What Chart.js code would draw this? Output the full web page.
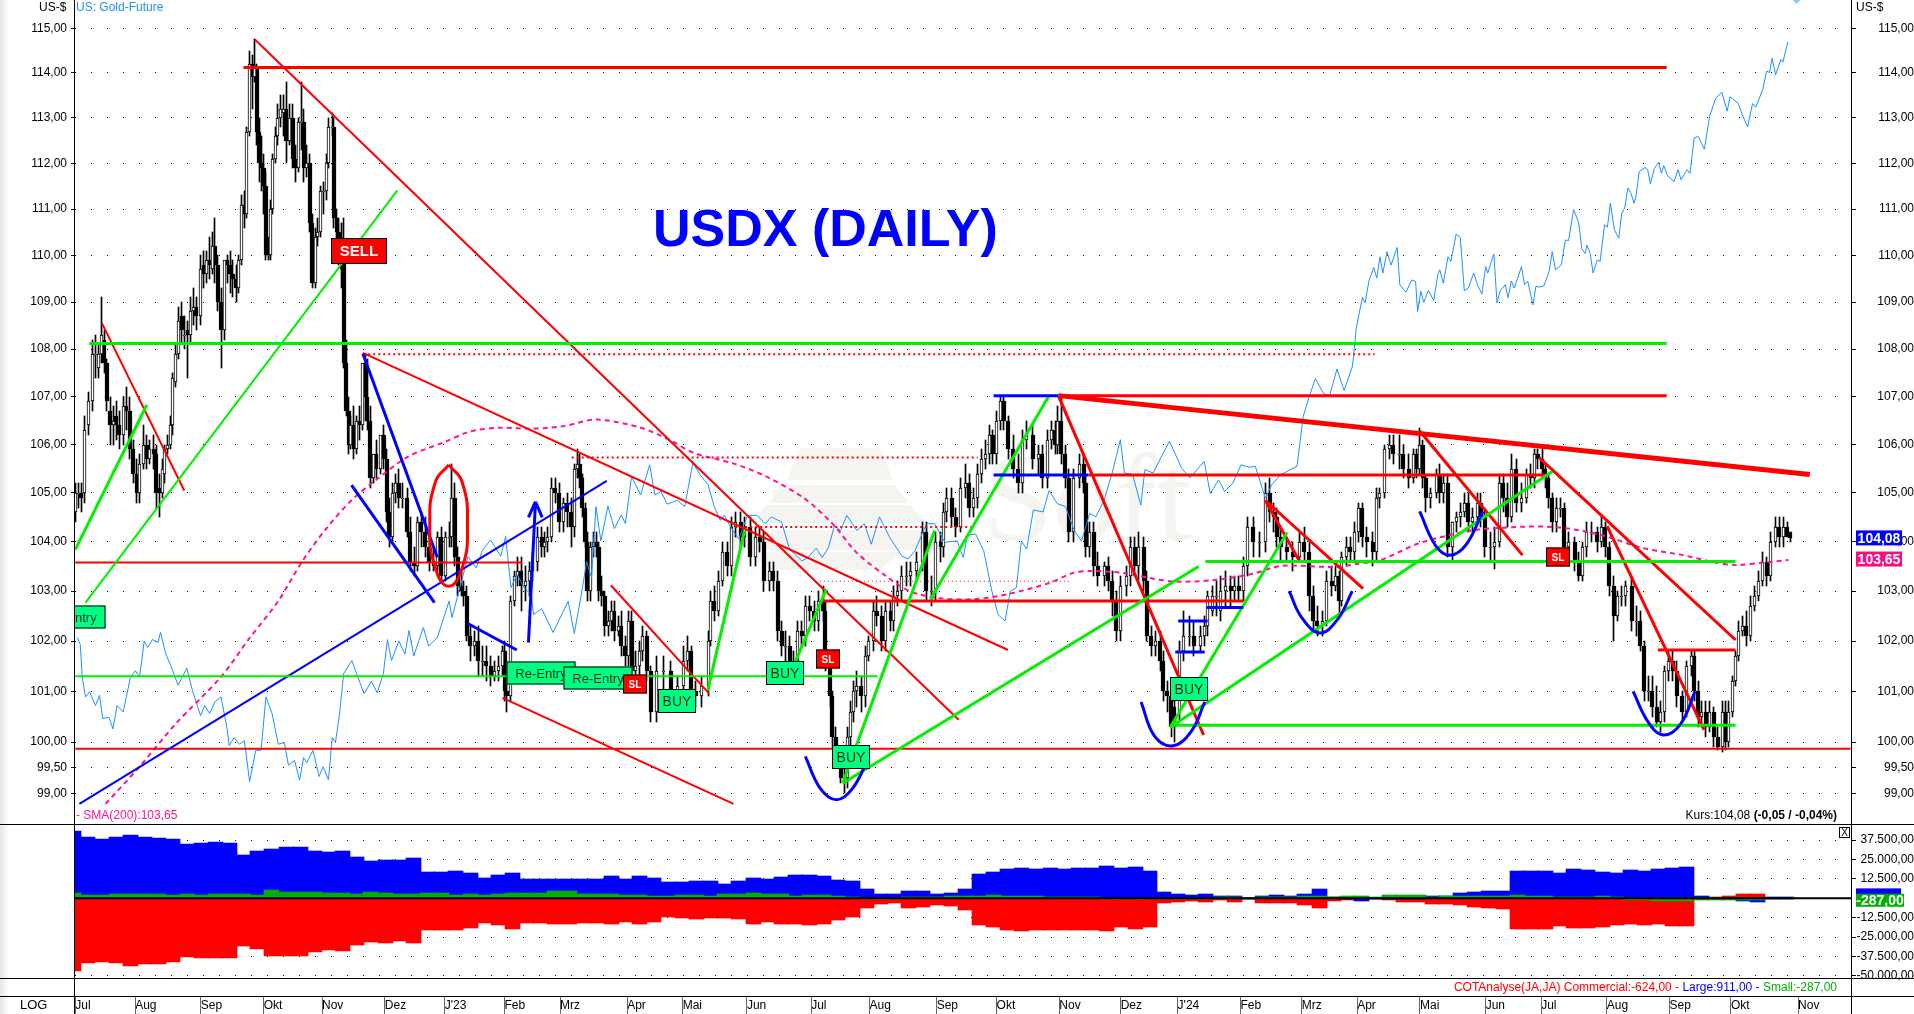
<!DOCTYPE html>
<html>
<head>
<meta charset="utf-8">
<title>USDX (DAILY)</title>
<style>
	html, body {margin: 0; padding: 0; background: #fff; overflow: hidden;}
	body {position: relative; width: 1914px; height: 1014px; font: 12px "Liberation Sans", Arial, sans-serif; color: #000;}
	canvas {position: absolute; left: 0;}
	#main {top: 0;}
	#cot {top: 824px;}
	.rule {position: absolute; background: #000;}
	.txt {position: absolute; line-height: 14px; white-space: nowrap;}
	#fade {position: absolute; left: 0; top: 0; width: 9px; height: 1014px; background: linear-gradient(to right, #e6e6e6, #fff);}
	#title {position: absolute; left: 653px; top: 198px; font: bold 52px/60px "Liberation Sans", Arial, sans-serif; color: #0000ff; white-space: nowrap;}
	#closeBox {position: absolute; left: 1839px; top: 827px; width: 9px; height: 9px; border: 1px solid #000; font: 10px/9px "Liberation Sans", Arial, sans-serif; text-align: center;}
	#goldDot {position: absolute; left: 1794px; top: -2px; width: 5px; height: 5px; background: #9cc4ee; transform: rotate(45deg);}
</style>
</head>
<body>
<div id="fade"></div>
<canvas id="main" width="1914" height="824"></canvas>
<canvas id="cot" width="1914" height="190"></canvas>

<div class="rule" style="left:0;top:824px;width:1914px;height:1px"></div>
<div class="rule" style="left:0;top:978px;width:1914px;height:1px"></div>
<div class="rule" style="left:0;top:996px;width:1914px;height:1px"></div>
<div class="rule" style="left:74px;top:0;width:1px;height:1014px"></div>
<div class="rule" style="left:1851px;top:0;width:1px;height:1014px"></div>

<div id="title">USDX (DAILY)</div>
<div class="txt" style="left:39px;top:0">US-$</div>
<div class="txt" style="left:76px;top:0;color:#1e90ff">US: Gold-Future</div>
<div class="txt" style="left:1856px;top:0">US-$</div>
<div class="txt" style="left:76px;top:808px;color:#ff1493">- SMA(200):103,65</div>
<div class="txt" style="right:77px;top:808px">Kurs:104,08 <b>(-0,05 / -0,04%)</b></div>
<div class="txt" style="right:77px;top:980px"><span style="color:#ff0000">COTAnalyse(JA,JA) Commercial:-624,00 - </span><span style="color:#0000ff">Large:911,00 - </span><span style="color:#00b000">Small:-287,00</span></div>
<div class="txt" style="left:20px;top:998px;font-size:13px">LOG</div>
<div id="closeBox">X</div>
<div id="goldDot"></div>

<script src="https://cdn.jsdelivr.net/npm/chart.js@4"></script>
<script>
// x values are trading-bar numbers, counted from the first bar in July 2022
var candleX = [
0,1,2,3,4.5,5.9,6.9,8,9,10,
10.8,12,13,14,15,16.4,17.5,18.6,19.9,21,
22,23.4,24.5,25.5,26.9,27.8,29,30,30.6,31.7,
32.7,33.4,34.3,35.2,36.4,37.3,38.5,39.4,40.4,41.5,
43,44,45,46,46.9,47.8,48.8,49.9,51,52,
53,54,55.1,55.9,56.9,57.9,58.7,59.7,60.7,61.5,
62.2,63,63.9,64.6,65.3,66,67,67.7,68.4,69.2,
70.2,71.2,72.3,73.4,74.4,75.4,76.5,77.5,78.2,79.3,
80.3,81.1,82.1,83.1,83.9,84.9,85.9,86.7,88,88.5,
89.5,90.2,91.2,91.9,92.8,93.6,94.4,95.4,96.4,97.5,
98.3,99.3,100,101,102,103,104.5,105.6,106.6,107.5,
108.7,109.8,110.8,112.2,113.6,114.7,116,117.1,118.5,119.9,
121.3,122.7,124,125.4,126.8,128,129,130,131,132.2,
133.1,134.1,135.2,136.6,138,139.4,140.8,142.2,143.6,145,
146.2,147.1,147.8,149.2,150.3,151.3,152.7,154.1,155.5,156.6,
158.3,159.7,160.8,161.8,163.2,164.3,165.7,167.1,168.5,169.9,
170.9,171.9,172.7,173.7,174.7,175.4,176.5,177.5,178.6,179.3,
180.3,181.4,182.5,183.5,184.6,185.9,187,188.4,189.4,190.5,
191.9,193.3,194.3,195.7,197,199.2,201.3,204,206.2,208.3,
209.7,211,212.5,214.6,216.7,217.7,218.8,220.2,221.6,223.2,
224.6,226,227.9,229.3,231.1,232.8,234.4,235.8,237.7,239,
240.5,241.9,243.2,244.6,246,247.4,248.8,250.2,251.6,253,
254.4,256.1,256.8,258.6,259.3,260.5,262.2,263.5,264.5,265.6,
266.6,267.7,269.1,270.5,271.6,273.2,274.4,276.1,277.5,279.2,
280.3,281.7,283.1,284.5,286.2,288,290.1,291.5,293.2,294.6,
296.4,297.4,298.5,300.2,301.6,303,304.8,306.2,307.6,309,
310.4,311.8,313.2,314.2,315.6,316.7,318,319.5,321.2,323,
324.4,325.8,327.9,330,331.1,332.8,334.2,335.6,336.5,337.6,
339.1,340.2,341.9,344,345.3,346,347.4,348.8,350.2,352.3,
353.7,355.1,356.5,357.9,360,361.4,362.8,364.2,365.9,367,
368.4,370.1,371.5,372.6,374,375.4,376.4,378,379.6,381.7,
383.1,385.2,386.8,387.9,389.3,390.7,392.2,393.9,395.7,397.1,
398.5,399.9,401.3,403.4,405.5,407.6,409,410.4,411.4,412.8,
414.9,417,419.1,420.8,422.6,424,425.4,427.2,428.6,430.3,
431.7,432.8,433.8,435.2,436.6,438,439.4,440.8,442.2,444.3,
445.7,446.8,448.2,449.9,451.3,453.4,454.8,456.6,458.3,459.4,
460.4,461.4,462.5,464.1,466,467.3,468.7,470.1,471.5,472.9,
474.3,475.7,477.1,478.5,480.2,481.3,482.7,484.6,486.2,487.6,
489,490.4,491.8,493.5,495.3,497.1,498.5,499.7,500.9,502.3,
503.4,504.4,505.8,507.2,508.6,510,511.4,513.5,514.9,516.3,
517.7,519.1,521.2,522.6,524,525.4,526.8,528.2,529.6,531,
533.1,534.5,535.9,537.3,538.7,540.1,541.6,542.9,544.3,545.7,
547.1,548.5,550.3,551.7,553.4,554.5,555.8,556.9,558.3,559.7,
561.1,562.5,564,565.3,566.3,567.4,568.5,569.7,570.9,572.3,
573.7,575.1,576.5,577.9,579.3,580.7,582.1,583.5,584.9,586.3,
587.3];
var candleOpen = [
104.6,105,105,105,106.4,106.9,107.9,107.6,107.9,108.2,
107.7,106.7,106.4,106.6,106.4,106.2,106.8,106.7,105.9,105.4,
105,105.6,106,105.7,105.9,105.8,105.1,105,105.4,105.9,
106,106.4,107.3,107.9,108.7,108.3,108.4,108.3,108.8,108.9,
108.7,109.8,109.6,109.9,109.7,110.2,109.8,109,108.4,109.9,
109.8,109.6,109.5,109.3,109.9,111.1,110.9,112.7,114.2,113.9,
114.1,112.7,112,111.9,111.5,110,110,111,112.1,112.6,
113,113.1,113.2,112.5,113,112.1,111.9,112.9,112.9,111.9,
112,110.7,109.4,110.4,110.5,111.4,111.4,112,112.8,112.8,
110.8,110.5,110,110,107.7,106.7,106,106.4,105.9,106.5,
106.4,107.7,107,106.5,105.3,105.8,105.5,106.2,105.7,104.6,
104.1,105,105.2,104.9,104.9,104.2,103.6,103.5,104.4,104.2,
103.9,103.6,103.5,104.1,103.3,104.1,104.1,104.9,103.7,103.1,
103,102.9,102.1,101.9,102,101.6,101.6,101.5,101.3,101.4,
101.5,101.8,101,100.9,102.8,103.3,103.4,103.1,103.2,103.4,
103.6,104.1,103.9,104,104.1,105.1,105,104.4,104.8,104.6,
104.3,105.5,105.6,105.3,104.7,104,103,103.9,104,103.9,
103,102.9,102.3,102.4,102.6,102.2,102.3,101.9,101.7,102.4,
101.4,101.5,101.8,102.1,101.4,100.6,101.4,101.4,101,101.1,
101.6,101.8,101,100.9,101.1,102,102.8,102.6,103.2,103.8,
103.5,104.3,104.4,104.1,104.3,103.7,104.1,104,103.2,103.4,
103.2,102.2,101.9,101.9,101.6,101.6,102.2,102.1,102.7,102.6,
102.4,102.8,102.6,101.6,100.9,100.1,99.7,99.3,99.3,100.1,
100.6,101,101.1,100.9,101.7,102,102.6,102.5,102,102.6,
102.4,102.9,103,103.3,103.3,103.4,103.6,104.2,103,103,
104,103.9,104.6,104.9,104.5,104.3,105.1,105.2,104.7,104.9,
105.4,105.7,105.8,106.2,105.8,106.5,106.9,106.5,105.9,105.5,
105.2,106.1,106.2,105.7,105.8,105.3,106.1,106.3,106,106.5,
105.8,105.3,104.2,105.3,105.6,105.2,103.9,104.2,103.5,103.3,
103.5,103.2,102.8,102.2,103.1,103.3,103.9,103.5,103.9,103.2,
102.1,101.9,102,101.6,101,100.9,100.7,100.6,101.8,102.1,
102.1,101.9,102.1,102.3,102.6,102.9,102.6,103,103.1,103,
103.1,103,103.5,104.3,104,104,105,104.6,104.5,104.1,
103.9,103.8,103.7,104,103.8,102.9,102.4,102.3,102.4,103.2,
103.1,103.3,102.8,103.7,103.9,103.8,104.2,104.7,104.1,104,
103.8,104.9,105,105.9,106,105.8,105.8,105.5,105.3,105.8,
105.5,106,105.3,104.9,105,105.4,105,105.2,103.9,104.4,
104.5,104.6,104.8,104.4,104.5,104.8,104.5,103.9,103.9,104,
105.2,104.9,104.5,105.5,104.8,104.9,105.4,105.3,105.8,105.7,
105.5,105.3,104.9,104.4,104.7,104.7,103.9,104,103.6,103.3,
103.9,104.2,104.2,104,104.3,103.9,103.1,102.5,102.9,102.9,
103.1,102.4,102.4,101.9,101,101,100.7,100.4,100.6,101.4,
101.6,101.4,100.9,100.6,101.5,101.7,101,100.5,100.6,100.3,
100.6,100.1,99.9,100.6,100,100.6,101.2,101.7,102.2,102.3,
102.1,102.7,102.9,103.2,103.6,103.3,104,104.3,104.1,104.3,
104.2];
var candleHigh = [
105.2,105.2,105.2,106.6,107.1,108.2,108.3,108.1,109.1,108.4,
107.8,107,106.8,106.9,106.7,107,107.2,107,106.1,105.7,
105.8,106.4,106.2,106.1,106.2,106,105.4,105.7,106,106.2,
106.6,107.5,108.1,108.9,109,108.7,108.6,109.1,109.3,109.1,
110,110.1,110.1,110.4,110.5,110.8,110,109.3,109,110,
110.1,109.9,109.8,110,111.3,111.4,112.8,114.5,114.4,114.75,
114.2,113,112.6,112.2,111.8,110.4,111.2,112.2,112.8,113.3,
113.5,113.5,113.8,113.3,113.3,112.4,113,113.8,113.2,112.4,
112.2,110.9,110.6,110.8,111.5,111.6,112.2,113,113.1,113,
111,110.8,110.7,110.8,108.2,107,106.6,106.8,106.6,106.8,
106.7,107.9,107.8,106.8,105.7,106.1,105.9,106.4,105.9,104.9,
105.2,105.4,105.5,105.2,105.1,104.5,103.9,104.5,104.6,104.5,
104.1,103.9,104.2,104.3,104.2,104.4,105.6,105.2,103.9,103.4,
103.2,103.1,102.3,102.2,102.3,101.9,101.9,101.7,101.6,101.7,
101.9,102,101.2,102.9,103.4,103.7,103.7,103.5,103.6,103.8,
104.3,104.3,104.2,104.3,105.3,105.3,105.2,104.9,105,104.9,
105.6,105.9,105.8,105.4,104.8,104.2,104,104.2,104.2,104,
103.3,103,102.6,102.8,102.8,102.5,102.6,102.1,102.6,102.6,
101.8,102,102.3,102.2,101.5,101.7,101.7,101.6,101.3,101.9,
102.1,101.9,101.2,101.3,102.2,103,103.1,103.4,104,104,
104.5,104.6,104.6,104.5,104.5,104.3,104.3,104.2,103.6,103.6,
103.4,102.4,102.2,102.1,101.8,102.4,102.4,102.9,102.9,102.8,
103,103.1,102.8,101.8,101,100.3,99.9,99.5,100.3,100.8,
101.2,101.4,101.3,101.9,102.1,102.8,102.9,102.7,102.8,102.8,
103.1,103.2,103.5,103.6,103.6,103.8,104.4,104.4,103.3,104.2,
104.2,104.8,105.1,105.1,104.7,105.3,105.6,105.4,105.1,105.6,
105.9,106.1,106.4,106.3,106.7,107,107,106.6,106.2,105.8,
106.3,106.5,106.4,106,106,106.3,106.5,106.5,106.8,107,
106,105.5,105.5,105.8,105.8,105.4,104.4,104.4,103.8,103.6,
103.7,103.4,103,103.3,103.5,104.1,104.1,104.2,104.1,103.4,
102.3,102.2,102.2,101.8,101.2,101.1,100.8,102,102.6,102.5,
102.4,102.3,102.5,103,103.1,103.2,103.3,103.4,103.3,103.3,
103.3,103.7,104.5,104.5,104.2,105.2,105.3,104.8,104.7,104.3,
104.1,104,104.2,104.3,104,103.1,102.7,102.6,103.4,103.5,
103.5,103.4,103.8,104.1,104.1,104.4,104.8,104.8,104.3,104.2,
105.1,105.1,106,106.2,106.2,106.2,106,105.8,105.9,105.9,
106.35,106.1,105.4,105.1,105.5,105.6,105.4,105.4,104.4,104.6,
104.8,105,105,104.7,105,105,104.7,104.2,104.3,105.4,
105.4,105.2,105.8,105.7,105.2,105.5,105.6,105.9,105.9,105.9,
105.6,105.4,105,104.9,104.9,104.8,104.2,104.1,103.8,104,
104.4,104.4,104.3,104.5,104.4,104,103.3,103,103.1,103.2,
103.3,102.7,102.6,102,101.3,101.3,101.1,100.8,101.5,101.8,
101.8,101.6,101,101.6,101.8,101.8,101.2,100.8,100.8,100.8,
100.7,100.3,100.8,100.8,100.8,101.3,101.8,102.4,102.5,102.6,
102.9,103.1,103.4,103.8,103.7,104.2,104.5,104.5,104.5,104.4,
104.2];
var candleLow = [
104.4,104.7,104.6,104.8,106.2,106.7,107.4,107.4,107.7,107.5,
106.7,106,106,106.1,105.9,106,106.3,105.7,105.2,104.8,
104.8,105.5,105.5,105.6,105.5,104.7,104.5,104.9,105.2,105.8,
105.9,106.2,107.2,107.8,108.1,108,107.4,108.1,108.5,108.4,
108.5,109.3,109.4,109.5,109.6,109.4,108.8,107.6,108.2,109.4,
109.2,109.1,109,109.2,109.8,110.6,110.8,112.6,113.2,113.8,
112.4,111.6,111.4,110.9,109.9,109.9,109.9,110.9,112,112.4,
112.8,112.6,112,112.4,111.9,111.6,111.8,112.3,111.6,111.7,
110.5,109.3,109.3,110.2,110.4,110.9,111.2,111.9,112.6,110.6,
110.2,109.8,109.3,107.6,106.6,105.8,105.9,105.7,105.8,106.1,
106.3,106.5,106.3,105.1,105.2,105.3,105.4,105.5,104.4,103.9,
104,104.8,104.7,104.7,104.1,103.4,103.3,103.4,103.9,103.7,
103.4,103.4,103.4,103.2,103.2,103.9,103.9,103.5,102.9,102.9,
102.7,102,101.6,101.7,101.3,101.3,101.2,101.1,101.2,101.2,
101.3,100.8,100.6,100.8,102.7,103.1,102.6,102.8,102.9,103.2,
103.4,103.7,103.7,103.8,104,104.8,104.2,104.2,104.3,103.9,
104.1,105.3,105.1,104.5,103.9,102.8,102.8,103.7,103.7,102.8,
102.7,102.1,102.1,102.2,102,102.1,101.7,101.5,101.5,101.2,
101.2,101.3,101.6,101.2,100.4,100.4,101,100.8,100.8,100.9,
101.4,100.8,100.7,100.7,100.9,101.9,102.4,102.5,103.1,103.3,
103.3,104.1,103.9,103.9,103.5,103.5,103.8,103,103,103,
102,101.7,101.6,101.4,101.4,101.4,101.9,101.9,102.4,102.2,
102.2,102.4,101.4,100.7,99.9,99.5,99.2,99,99.1,99.9,
100.4,100.7,100.6,100.7,101.6,101.8,102.3,101.8,101.8,102.2,
102.2,102.7,102.8,103.1,103.1,103.2,103.4,102.8,102.7,102.8,
103.6,103.7,104.4,104.3,104.1,104.2,104.9,104.5,104.5,104.7,
105.2,105.5,105.6,105.6,105.6,106.3,106.3,105.7,105.3,105,
105,105.9,105.5,105.4,105.1,105.1,105.9,105.8,105.8,105.6,
105.1,104,104,105.1,105,103.7,103.7,103.3,103.1,103.1,
103,102.5,102,102,102.9,103.1,103.3,103.2,103,102,
101.7,101.7,101.4,100.8,100.6,100.1,100,100.4,101.6,101.9,
101.7,101.8,101.9,102.1,102.5,102.5,102.4,102.7,102.7,102.8,
102.8,102.8,103.3,103.7,103.7,103.8,104.4,104.2,103.9,103.6,
103.6,103.4,103.6,103.6,102.6,102.2,102.1,102.1,102.3,102.9,
103,102.5,102.7,103.5,103.6,103.6,104,103.9,103.7,103.5,
103.6,104.7,104.9,105.7,105.6,105.5,105.3,105.1,105.2,105.3,
105.4,105.1,104.6,104.7,104.9,104.8,104.8,103.7,103.6,104.2,
104.3,104.5,104.2,104.2,104.4,104.3,103.7,103.6,103.45,103.9,
104.6,104.3,104.4,104.6,104.6,104.8,105.1,105.1,105.5,105.3,
105.1,104.7,104.2,104.2,104.5,103.7,103.7,103.4,103.2,103.2,
103.7,104,103.8,103.9,103.7,102.9,102,102.4,102.7,102.7,
102.2,102.1,101.8,100.8,100.8,100.5,100.3,100.2,100.4,101.2,
101.2,100.7,100.4,100.5,101.3,100.8,100.3,100.3,100.1,100.2,
99.9,99.85,99.8,99.85,99.9,100.5,101.1,101.6,102.1,101.9,
102,102.6,102.8,103.1,103.1,103.2,103.9,103.9,103.9,104.1,
104];
var candleClose = [
105,105,104.9,106.3,106.9,107.9,107.9,107.9,108.3,107.7,
106.9,106.4,106.5,106.4,106.2,106.8,106.7,105.9,105.4,105,
105.6,106,105.7,105.9,105.8,105,105,105.5,105.9,106,
106.4,107.4,107.9,108.6,108.4,108.3,108.3,108.8,108.9,108.7,
109.7,109.6,109.9,109.8,110.2,109.8,109,108.4,109.9,109.8,
109.6,109.5,109.3,109.9,111.1,110.9,112.7,114.2,113.9,114.1,
112.7,112,111.9,111.5,110,110,111,112.1,112.6,113,
113.2,113.2,112.5,113,112.1,111.9,112.9,112.9,111.9,112,
110.7,109.4,110.4,110.5,111.4,111.4,112,112.8,112.8,110.8,
110.5,110,109.7,107.7,106.7,106,106.4,105.9,106.5,106.4,
107.7,107,106.5,105.3,105.8,105.5,106.2,105.7,104.6,104.1,
105,105.2,104.9,104.9,104.2,103.6,103.5,104.4,104.2,103.9,
103.6,103.5,104.1,103.3,104.1,104.1,104.9,103.7,103.1,103,
102.9,102.1,101.9,102,101.6,101.6,101.5,101.3,101.4,101.5,
101.8,101,100.9,102.8,103.3,103.4,103.1,103.2,103.4,103.6,
104.1,103.9,104,104.1,105.1,105,104.4,104.8,104.6,104.3,
105.5,105.6,105.3,104.7,104,103,103.9,104,103.9,103,
102.9,102.3,102.4,102.6,102.2,102.3,101.9,101.7,102.4,101.4,
101.5,101.8,102.1,101.4,100.6,101.4,101.4,101,101.1,101.6,
101.8,101,100.9,101.1,102,102.8,102.6,103.2,103.8,103.5,
104.3,104.4,104.1,104.3,103.7,104.1,104,103.2,103.4,103.2,
102.2,101.9,101.9,101.6,101.6,102.2,102.1,102.7,102.6,102.4,
102.8,102.6,101.6,100.9,100.1,99.7,99.3,99.3,100.1,100.6,
101,101.1,100.9,101.7,102,102.6,102.5,102,102.6,102.4,
102.9,103,103.3,103.3,103.4,103.6,104.2,103,103,104,
103.9,104.6,104.9,104.5,104.3,105.1,105.2,104.7,104.9,105.4,
105.7,105.8,106.2,105.8,106.5,106.9,106.5,105.9,105.5,105.2,
106.1,106.2,105.7,105.8,105.3,106.1,106.3,106,106.5,105.8,
105.3,104.2,105.3,105.6,105.2,103.9,104.2,103.5,103.3,103.5,
103.2,102.8,102.2,103.1,103.3,103.9,103.5,103.9,103.2,102.1,
101.9,102,101.6,101,100.9,100.3,100.3,101.8,102.1,102.1,
101.9,102.1,102.3,102.9,102.9,102.9,103,103.1,103,103.1,
103,103.5,104.3,104,104,105,104.6,104.5,104.1,103.9,
103.8,103.7,104,103.8,102.9,102.4,102.3,102.4,103.2,103.1,
103.3,102.8,103.7,103.9,103.8,104.2,104.7,104.1,104,103.8,
104.9,105,105.9,106,105.8,105.8,105.5,105.3,105.8,105.5,
106,105.3,104.9,105,105.4,105,105.2,103.9,104.4,104.5,
104.6,104.8,104.4,104.5,104.8,104.5,103.9,103.9,104,105.2,
104.9,104.5,105.5,104.8,104.9,105.4,105.3,105.8,105.7,105.5,
105.3,104.9,104.4,104.7,104.7,103.9,104,103.6,103.3,103.9,
104.2,104.2,104,104.3,103.9,103.1,102.5,102.9,102.9,103.1,
102.4,102.4,101.9,101,101,100.7,100.4,100.6,101.4,101.6,
101.4,100.9,100.6,101.5,101.7,101,100.5,100.6,100.3,100.6,
100.1,99.9,100.6,100,100.6,101.2,101.7,102.2,102.3,102.1,
102.7,102.9,103.2,103.6,103.3,104,104.3,104.1,104.3,104.1,
104.08];

// gold future overlay, drawn on the same price axis as in the original
var goldX = [
0.7,1.7,2.4,3.5,4.9,6.9,8.3,9.4,11.5,12.9,14.3,16.4,18.9,20.6,22,23.6,24.8,26.4,28.3,29.2,
31,32.9,35.2,38.2,40.1,42.9,44.3,46,47.8,49.9,52,52.7,54.4,56.2,57.9,59.7,61.8,63.6,65.3,67.4,
69.5,71.6,73,75.1,76.8,78.2,79.3,81.4,83.5,84.9,86.7,88,89.1,90.5,91.9,94.7,96.8,98.9,101.4,103.4,
105.5,106.9,108.3,110.8,112.9,114.3,115.9,119.2,121,124,126.2,128,129,131.7,134.5,137.3,139.4,142.2,145.7,147.4,
149.2,151.3,153.7,156.2,156.9,159.7,163.6,168.8,170.9,173.7,175.1,176.8,178.3,180,182.4,184.6,187,188.4,190.5,193.6,
196.7,198.5,200.6,202.7,206.2,208.7,211.5,213.9,216.7,218.8,220.9,222.3,224.4,227.2,230.2,233.5,236.3,238.4,241.9,244.6,
248.8,250.9,253.7,255.8,257.9,260,262.1,264.2,267.7,270.2,272.6,275.4,278.9,283.1,285.2,287.6,291.5,294.3,297.8,302,
304.1,305.5,308.3,311.1,313.9,316,318.4,320.2,322.3,324,325.8,328.1,331.4,333.5,336.3,339.1,342.1,344.6,347.4,349.5,
352.3,355.1,357.9,359.3,362.1,364.9,366.3,369.1,374.7,378.9,381.7,386.6,388.7,391.5,393.6,396.4,399.2,402,404.1,407.6,
409.7,412.9,414.9,418.4,420.5,422.6,424.7,427.5,429.6,432.1,434.5,437.3,437.7,438.7,440.8,441.7,443.1,444.7,445.7,446.8,
447.8,449.2,450.6,452.7,453.6,455.7,457.6,459,459.7,460.8,461.8,463.4,465.2,466.6,467.3,468.5,470.1,471.1,472.9,474.3,
475.7,477.1,478.9,480.2,481.7,483,483.7,485.8,486.9,487.9,489.7,490.7,491.8,492.8,495.3,496.3,497.4,499.2,500.2,501.6,
503,504.7,505.8,506.9,508.9,510.3,511.4,513.1,514.9,515.9,517,517.7,518.8,519.8,521.2,522.2,523.7,524.7,525.7,527.1,
528.6,529.6,530.6,531.7,532.7,533.8,534.5,535.6,537.6,538.5,539.4,540.8,542.2,543.2,544,545.3,547.5,548.9,549.9,552,
553,554.4,555.8,557.9,559.7,561.8,563.9,565.7,566.7,569.5,570.9,572.7,574.4,575.5,577.9,579.2,580.2,581.1,582.3,584.1,
584.8,586.5];
var goldY = [
102.07,101.93,101.28,100.89,100.99,100.72,100.92,100.46,100.49,100.26,100.72,100.59,101.28,101.41,101.28,102,101.87,102.03,101.97,102.17,
101.74,101.48,101.12,101.46,101.02,100.52,100.72,100.56,100.79,100.89,100.26,99.93,100.09,99.96,100.03,99.23,99.84,99.84,100.89,100.56,
99.96,99.99,99.55,99.64,99.26,99.7,99.6,99.84,99.33,99.52,99.26,100.09,99.99,100.56,101.35,101.61,101.28,100.95,101.2,100.97,
101.35,102.03,101.61,102,101.74,102.21,101.7,102.27,101.9,102.07,102.47,102.8,102.47,103.07,103.7,103.47,103.82,104.04,103.71,104.11,
103.07,103.34,103.07,102.93,102.53,102.65,102.17,102.8,102.15,103.07,103.6,103.27,104.72,104.02,104.73,104.27,104.55,104.37,105.34,104.96,
105.58,104.96,105.03,104.77,104.85,104.72,105.62,105.38,105.17,104.72,104.44,104.54,104.3,104.06,104.54,104.54,104.37,104.51,104.4,103.85,
103.61,103.68,103.87,103.68,103.88,104.33,104.23,104.54,104.23,104.37,103.95,104.51,104.09,103.71,103.65,103.82,104.37,104.37,103.99,104.02,
103.68,104.13,104.16,103.82,103,102.53,102.4,103,103.07,104.02,103.85,104.65,104.61,105.05,104.78,104.72,104.23,104.02,104.58,104.51,
104.85,105.41,106.1,105.41,105.38,104.75,105.48,105.41,106.07,105.51,105.31,105.65,104.99,105.27,105.03,105.2,105.58,105.53,105.55,104.89,
105.17,105.38,105.44,105.55,106.58,107,107.38,107.06,107.03,107.58,107.13,107.62,107.81,108.45,109.1,108.98,109.47,109.74,109.51,109.97,
109.62,110.08,109.79,110.17,109.37,109.21,109.47,109.44,108.8,109.23,108.99,109.25,109.03,109.58,109.69,109.4,109.97,109.87,110.46,110.39,
109.24,109.3,109.62,109.37,109.17,109.76,109.62,110.03,108.98,109.23,109.37,109.09,109.45,109.3,109.76,109.37,109.45,108.94,109.33,109.32,
109.35,109.65,110.08,109.69,109.79,110.33,110.32,110.99,110.7,110.15,110.04,110.22,110.04,109.62,109.9,109.87,110.66,110.61,111.13,110.55,
110.37,110.91,111.02,111.46,111.36,111.13,111.28,111.82,111.91,111.86,111.55,111.89,112.02,111.78,111.95,111.73,111.6,111.86,111.64,111.86,
111.78,112.56,112.59,112.31,113.04,113.44,113.57,113.15,113.47,113.32,113.07,112.8,113.32,113.24,113.63,114.04,114.01,114.33,113.96,114.3,
114.24,114.7];

var smaX = [10.4,22,34.4,49.8,59.7,69.5,77.8,86.2,94.6,103,114,126.8,135.2,145,156,167,178.5,193.6,203.4,211.7,225.8,236.9,249.4,259.3,267.6,277.5,285.7,295.7,308.3,319.3,333.3,341.7,347.4,358.5,375.3,389.2,403.2,412.8,431.6,438.7,447,459.7,470.8,480.6,497.4,508.7,522.5,536.4,550.5,561.7,568.6,578.5,586.7];
var smaY = [98.8,99.52,100.36,101.28,102.06,102.8,103.61,104.29,104.85,105.27,105.75,106.06,106.27,106.35,106.33,106.38,106.52,106.35,106.1,105.83,105.6,105.33,104.9,104.37,103.78,103.31,103,102.86,102.84,102.94,103.16,103.37,103.41,103.37,103.2,103.22,103.35,103.51,103.49,103.55,103.63,103.96,104.14,104.25,104.31,104.29,104.14,103.88,103.73,103.58,103.53,103.58,103.63];

// drawn analysis lines as [bar, price, bar, price]
var redThin = [[9.1,108.55,37.3,105.05],[61.5,114.75,302.5,100.44],[98.5,107.92,319.4,101.82],[146.3,100.87,225.4,98.8],[183.4,103.12,217,100.96],[0,103.58,153,103.58],[0,99.87,608,99.87]];
var redMid = [[57.6,114.12,545,114.12],[255.6,102.8,400,102.8],[336.7,107.02,545,107.02],[347,105.37,503.6,105.37],[542,101.82,568.6,101.82],[407.5,104.85,441,103.05],[407.5,104.85,419,103.63],[460.4,106.28,495.6,103.73],[501.3,105.73,568.6,102.02],[524.6,104.32,557.8,100.24],[336.8,107,386.4,100.14]];
var redThick = [[336.7,107.02,594,105.38]];
var redDots = [[98.6,107.89,445,107.89],[170,105.73,309,105.73],[226,104.3,308,104.3]];
var redFineDots = [[255,103.2,341,103.2]];
var greenThin = [[3.5,102.77,110.3,111.41],[0,101.3,274.7,101.3]];
var greenMid = [[4.8,108.12,545,108.12],[0,103.84,24.5,106.83],[216.6,101.02,229.2,104.23],[246.7,101.6,257.2,103.04],[262.8,99.2,294.3,104.23],[262.8,99.2,384.7,103.5],[292.9,102.84,333.3,107],[375,100.29,505.8,105.44],[375,100.29,415,104.19],[387,103.6,568.6,103.6],[375,100.33,568.6,100.33]];
var blueThin = [[1.4,98.8,182,105.25]];
var blueMid = [[98.5,107.9,124,103.68],[94.6,105.16,123,102.77],[134.4,102.35,151.2,101.82],[314.5,107.02,336.7,107.02],[314.5,105.37,347,105.37],[387.5,102.67,400,102.67],[377.7,102.4,387.8,102.4],[376.7,101.78,386.8,101.78],[155.2,101.97,157.6,104.82],[155.2,104.5,157.6,104.82],[157.6,104.82,159.9,104.5]];

var blueCurves = [
	[[250,99.72],[255.1,99.1],[260.7,98.88],[266.2,99.1],[271.9,99.72]],
	[[365,100.79],[369.6,100.12],[376,99.93],[382.3,100.22],[386.8,100.79]],
	[[415.7,103],[420,102.47],[426.2,102.16],[432.4,102.44],[437.3,103]],
	[[460.4,104.62],[465.9,103.92],[471,103.73],[476.5,103.96],[482,104.62]],
	[[533.5,101],[538.6,100.4],[543.8,100.14],[549.8,100.36],[554.7,101]]
];
var redOval = [[127.9,105.58],[132.5,105.22],[134.3,104.33],[132.5,103.47],[127.9,103.1],[123.3,103.47],[121.4,104.33],[123.3,105.22],[127.9,105.58]];

var noteText = ["Re-Entry","SELL","Re-Entry","Re-Entry","SL","BUY","BUY","SL","BUY","BUY","SL"];
var noteX = [-1.3,97.2,159.5,179,191.6,206,243,257.9,265.5,381.3,507.8];
var noteY = [102.48,110.1,101.37,101.27,101.15,100.8,101.37,101.65,99.7,101.05,103.7];

var priceTicks = [99,99.5,100,101,102,103,104,105,106,107,108,109,110,111,112,113,114,115];
var lastClose = 104.08;
var lastSma = 103.65;

var monthLabels = ["Jul","Aug","Sep","Okt","Nov","Dez","J'23","Feb","Mrz","Apr","Mai","Jun","Jul","Aug","Sep","Okt","Nov","Dez","J'24","Feb","Mrz","Apr","Mai","Jun","Jul","Aug","Sep","Okt","Nov"];
var monthTicks = [0,20.5,43,64.5,84.5,106,126.5,147,166,189,208,230,252,272,295,315.5,337,358,377.5,399,420,439,460.5,483,502,524.5,546,567,590];

// weekly COT positions
var cotLarge = [
43400,39800,38300,39800,40900,39800,38700,38100,35300,35900,
36300,35700,28000,30500,31800,33100,33100,30500,29900,30500,
26700,24100,24700,24700,26000,17000,17000,17600,16300,12900,
15000,16300,12500,12500,12500,12500,12500,12500,14400,12500,
14400,13100,10500,10500,11200,11200,9200,11200,13100,12500,
13800,15000,15000,14400,11800,11200,6000,2800,2800,4700,
4700,2800,3400,
6000,15900,17000,18700,19600,19100,19600,19100,19600,19600,
20900,19400,20200,17800,3900,2600,2200,2800,1500,1500,
0,1500,2200,1500,2800,6000,900,400,-1500,-600,
-200,0,0,1500,1700,3400,4100,4700,4700,17600,
17600,17600,16600,18900,18300,17200,16600,18300,17600,18900,
19600,20200,1500,400,-200,-1500,-2200,600,600];
var cotCommercial = [
-46700,-41700,-41100,-41700,-43400,-42400,-42400,-40900,-37800,-38500,
-38500,-38500,-30700,-32700,-37200,-37200,-37200,-34600,-33300,-34000,
-30100,-28200,-28800,-27500,-28800,-20400,-20400,-20400,-19100,-15900,
-17200,-19600,-15900,-15900,-16600,-16600,-15900,-15900,-16600,-15300,
-16600,-15300,-12000,-12500,-13100,-12500,-12700,-13300,-16600,-15300,
-16600,-16600,-17200,-16600,-14000,-12000,-6200,-3700,-3000,-6200,
-5600,-4300,-4900,
-7500,-17200,-18300,-20400,-21100,-20400,-20400,-20400,-20400,-20400,
-21100,-18500,-19800,-18500,-3200,-2200,-1700,-2400,-1100,-2400,
-400,-2800,-2800,-2800,-4300,-6200,-1700,-900,-600,-600,
-900,-2400,-2400,-3700,-3700,-4300,-5600,-6200,-6900,-19800,
-19800,-19800,-17800,-19100,-19100,-18500,-17200,-16600,-17200,-16600,
-17800,-17800,-400,900,1500,2800,2800,0,0];
var cotSmall = [
3700,2200,2200,2600,2600,3000,2600,2200,2600,2200,
2600,3000,3000,2200,5400,4100,4100,4100,3200,3200,
2800,4100,3700,2800,2800,3400,3400,2200,2800,2200,
2800,3400,3400,3400,4700,4700,2800,2800,2800,2200,
2200,1500,1500,2200,2200,1500,2800,2800,3400,2800,
2800,1500,2200,2200,1500,600,0,0,0,900,
900,900,1500,
1500,1500,2200,1500,1500,1500,900,900,900,900,
0,-600,0,0,-600,-600,-600,0,900,900,
0,900,900,900,1500,1500,1100,1700,1700,1100,
1900,1900,1900,1100,1700,1500,1500,1500,1500,2200,
1500,1500,900,900,900,1500,900,-1300,-1100,-1500,
-1500,-1900,-1300,-1300,-1300,-900,-900,0,0];
var cotTicks = [-50000,-37500,-25000,-12500,12500,25000,37500];
var cotLast = {large: 911, small: -287};

// 5 trading days in most weeks, a little less with holidays
var barsPerWeek = 4.846;
var firstBar = -0.1;
var lastBar = 608.46;

var FONT = '"Liberation Sans", Arial, sans-serif';

function segments(list) {
	var pts = [];
	list.forEach(function(s) {
		pts.push({x: s[0], y: s[1]}, {x: s[2], y: s[3]}, {x: s[2], y: null});
	});
	return pts;
}

function lineSet(data, color, width, order, extra) {
	var set = {type: 'line', data: data, borderColor: color, borderWidth: width, pointRadius: 0, order: order, spanGaps: false, tension: 0, yAxisID: 'y'};
	for (var k in extra) set[k] = extra[k];
	return set;
}

function curvePoints(list) {
	return list.map(function(p) { return {x: p[0], y: p[1]}; });
}

function priceLabel(v) { return v.toFixed(2).replace('.', ','); }

function cotLabel(v) {
	var s = Math.abs(v).toString().replace(/\B(?=(\d{3})+$)/g, '.');
	return (v < 0 ? '-' : '') + s + ',00';
}

function fixY(width) {
	return function(s) { s.width = width; s.paddingTop = 0; s.paddingBottom = 0; };
}

// bars on whole pixels so thin candles stay crisp like the original
var snapBars = {
	id: 'snapBars',
	beforeDatasetsDraw: function(chart) {
		chart.data.datasets.forEach(function(d, i) {
			var meta = chart.getDatasetMeta(i);
			if (meta.type !== 'bar') return;
			meta.data.forEach(function(el) {
				el.x = d.barThickness % 2 ? Math.floor(el.x) + 0.5 : Math.round(el.x);
				el.y = Math.round(el.y);
				el.base = Math.round(el.base);
				if (el.y === el.base) el.base = el.y + 1;
			});
		});
	}
};

// faint vendor logo behind the candles
var watermark = {
	id: 'watermark',
	beforeDatasetsDraw: function(chart) {
		var c = chart.ctx;
		var bands = [[800,448,880,448,893,480,787,480],[780,485,895,485,909,503,770,503],[765,505,910,505,926,523,754,523],[735,530,930,530,942,550,722,550],[750,552,900,552,880,570,770,570]];
		c.save();
		c.fillStyle = '#f5f4f0';
		bands.forEach(function(b) {
			c.beginPath();
			c.moveTo(b[0], b[1]); c.lineTo(b[2], b[3]); c.lineTo(b[4], b[5]); c.lineTo(b[6], b[7]);
			c.closePath();
			c.fill();
		});
		c.font = '125px "Liberation Serif", serif';
		c.fillText('Soft', 983, 540);
		c.restore();
	}
};

function drawTag(c, y, text, color, width, height) {
	c.fillStyle = color;
	c.fillRect(1856, y - height / 2, width, height);
	if (!text) return;
	c.fillStyle = '#fff';
	c.font = 'bold 14px ' + FONT;
	c.textAlign = 'center';
	c.textBaseline = 'middle';
	c.fillText(text, 1856 + width / 2, y + 1);
}

var notes = {
	id: 'notes',
	afterDatasetsDraw: function(chart) {
		var c = chart.ctx, area = chart.chartArea;
		var xs = chart.scales.x, ys = chart.scales.y;
		c.save();
		c.beginPath();
		c.rect(area.left, area.top, area.right - area.left, area.bottom - area.top);
		c.clip();
		noteText.forEach(function(t, i) {
			var x = Math.round(xs.getPixelForValue(noteX[i]));
			var y = Math.round(ys.getPixelForValue(noteY[i]));
			var w = 38, h = 24, bg = '#00ff80', fg = '#003020', font = '14px ' + FONT;
			if (t === 'Re-Entry') { w = 69; h = 23; font = '13px ' + FONT; }
			if (t === 'SELL') { w = 56; h = 26; bg = '#ff0000'; fg = '#fff'; font = 'bold 15px ' + FONT; }
			if (t === 'SL') { w = 24; h = 19; bg = '#ff0000'; fg = '#fff'; font = 'bold 10px ' + FONT; }
			c.fillStyle = bg;
			c.fillRect(x - w / 2, y - h / 2, w, h);
			c.strokeStyle = '#000';
			c.lineWidth = 1;
			c.strokeRect(x - w / 2 + 0.5, y - h / 2 + 0.5, w - 1, h - 1);
			c.fillStyle = fg;
			c.font = font;
			c.textAlign = 'center';
			c.textBaseline = 'middle';
			c.fillText(t, x, y + 1);
		});
		c.restore();
		c.save();
		drawTag(c, ys.getPixelForValue(lastClose), priceLabel(lastClose), '#0000ff', 46, 15);
		drawTag(c, ys.getPixelForValue(lastSma), priceLabel(lastSma), '#ff0a84', 46, 15);
		c.restore();
	}
};

var cotExtras = {
	id: 'cotExtras',
	afterDraw: function(chart) {
		var c = chart.ctx, xs = chart.scales.x, ys = chart.scales.y;
		c.save();
		c.strokeStyle = '#666';
		c.lineWidth = 1;
		monthTicks.forEach(function(v) {
			var x = Math.floor(xs.getPixelForValue(v)) + 0.5;
			c.beginPath();
			c.moveTo(x, 172);
			c.lineTo(x, 190);
			c.stroke();
		});
		// the green tag sits on top of the blue one, only a sliver of blue shows
		drawTag(c, ys.getPixelForValue(cotLast.large) - 1, '', '#0000ff', 45, 15);
		drawTag(c, ys.getPixelForValue(cotLast.small) + 1.5, priceLabel(cotLast.small), '#00b000', 48, 13);
		c.restore();
	}
};

function candleBodies(keep, thickness, color) {
	var data = [];
	candleX.forEach(function(x, i) {
		if (keep(i)) data.push({x: x, y: [candleOpen[i], candleClose[i]]});
	});
	return {type: 'bar', grouped: false, data: data, backgroundColor: color, borderColor: '#000', borderWidth: 1, borderSkipped: false, barThickness: thickness, order: 20, yAxisID: 'y'};
}

var mainSets = [
	{type: 'bar', grouped: false, data: candleX.map(function(x, i) { return {x: x, y: [candleLow[i], candleHigh[i]]}; }), backgroundColor: '#000', barThickness: 1, borderWidth: 0, order: 21, yAxisID: 'y'},
	candleBodies(function(i) { return candleClose[i] >= candleOpen[i]; }, 3, '#fff'),
	candleBodies(function(i) { return candleClose[i] < candleOpen[i]; }, 4, '#000'),
	lineSet(goldX.map(function(x, i) { return {x: x, y: goldY[i]}; }), '#1e90ff', 1, 15),
	lineSet(smaX.map(function(x, i) { return {x: x, y: smaY[i]}; }), '#ff1493', 2, 14, {borderDash: [5, 4], tension: 0.3}),
	lineSet(segments(redFineDots), '#ff0000', 1, 13, {borderDash: [1, 3]}),
	lineSet(segments(redDots), '#ff0000', 2, 12, {borderDash: [2, 3]}),
	lineSet(segments(redThin), '#ff0000', 2, 11),
	lineSet(segments(blueThin), '#0000ff', 2, 10),
	lineSet(segments(greenThin), '#00f000', 2, 9),
	lineSet(segments(redMid), '#ff0000', 3, 8),
	lineSet(segments(greenMid), '#00f000', 3, 7),
	lineSet(segments(blueMid), '#0000ff', 3, 6),
	lineSet(segments(redThick), '#ff0000', 5, 5),
	lineSet(curvePoints(redOval), '#ff0000', 3, 4, {tension: 0.5})
];
blueCurves.forEach(function(u) {
	mainSets.push(lineSet(curvePoints(u), '#0000ff', 3, 3, {tension: 0.4}));
});

new Chart(document.getElementById('main'), {
	data: {datasets: mainSets},
	plugins: [snapBars, watermark, notes],
	options: {
		responsive: false,
		animation: false,
		devicePixelRatio: 1,
		events: [],
		layout: {padding: 0},
		plugins: {legend: {display: false}, tooltip: {enabled: false}},
		scales: {
			x: {type: 'linear', display: false, min: firstBar, max: lastBar, offset: false},
			y: {
				type: 'logarithmic', position: 'left', min: 98.41, max: 115.64,
				afterFit: fixY(75),
				afterBuildTicks: function(s) { s.ticks = priceTicks.map(function(v) { return {value: v}; }); },
				border: {display: false, dash: [1, 15]},
				grid: {color: '#000', lineWidth: 1, tickLength: 4, tickColor: '#000', tickBorderDash: []},
				ticks: {autoSkip: false, padding: 4, color: '#000', font: {family: FONT, size: 12}, callback: priceLabel}
			},
			yr: {
				type: 'logarithmic', position: 'right', min: 98.41, max: 115.64,
				afterFit: fixY(62),
				afterBuildTicks: function(s) { s.ticks = priceTicks.map(function(v) { return {value: v}; }); },
				border: {display: false},
				grid: {drawOnChartArea: false, tickLength: 4, tickColor: '#000'},
				ticks: {autoSkip: false, padding: 1, crossAlign: 'far', color: '#000', font: {family: FONT, size: 12}, callback: priceLabel}
			}
		}
	}
});

function cotPoints(list) {
	return list.map(function(v, k) { return {x: -0.5 + barsPerWeek * k, y: v}; });
}

new Chart(document.getElementById('cot'), {
	data: {
		datasets: [
			{type: 'line', data: [{x: firstBar, y: 0}, {x: lastBar, y: 0}], borderColor: '#000', borderWidth: 2, pointRadius: 0, order: 1, yAxisID: 'y'},
			{type: 'bar', grouped: false, data: cotPoints(cotSmall), backgroundColor: '#00b000', barThickness: 15, borderWidth: 0, order: 2, yAxisID: 'y'},
			{type: 'bar', grouped: false, data: cotPoints(cotLarge), backgroundColor: '#0000ff', barThickness: 15, borderWidth: 0, order: 3, yAxisID: 'y'},
			{type: 'bar', grouped: false, data: cotPoints(cotCommercial), backgroundColor: '#ff0000', barThickness: 15, borderWidth: 0, order: 4, yAxisID: 'y'}
		]
	},
	plugins: [snapBars, cotExtras],
	options: {
		responsive: false,
		animation: false,
		devicePixelRatio: 1,
		events: [],
		layout: {padding: 0},
		plugins: {legend: {display: false}, tooltip: {enabled: false}},
		scales: {
			x: {
				type: 'linear', position: 'bottom', min: firstBar, max: lastBar, offset: false,
				afterFit: function(s) { s.height = 36; s.paddingLeft = 0; s.paddingRight = 0; },
				afterBuildTicks: function(s) { s.ticks = monthTicks.map(function(v) { return {value: v}; }); },
				border: {display: false},
				grid: {display: false},
				ticks: {
					autoSkip: false, maxRotation: 0, minRotation: 0, align: 'start', padding: 12, color: '#000',
					font: {family: FONT, size: 12},
					callback: function(v) { return monthLabels[monthTicks.indexOf(v)]; }
				}
			},
			y: {
				type: 'linear', position: 'left', min: -51350, max: 47870,
				afterFit: fixY(75),
				afterBuildTicks: function(s) { s.ticks = cotTicks.map(function(v) { return {value: v}; }); },
				border: {display: false, dash: [1, 15]},
				grid: {color: '#000', lineWidth: 1, drawTicks: false},
				ticks: {display: false}
			},
			yr: {
				type: 'linear', position: 'right', min: -51350, max: 47870,
				afterFit: fixY(62),
				afterBuildTicks: function(s) { s.ticks = cotTicks.map(function(v) { return {value: v}; }); },
				border: {display: false},
				grid: {drawOnChartArea: false, tickLength: 4, tickColor: '#000'},
				ticks: {autoSkip: false, padding: 1, crossAlign: 'far', color: '#000', font: {family: FONT, size: 12}, callback: cotLabel}
			}
		}
	}
});
</script>
</body>
</html>
